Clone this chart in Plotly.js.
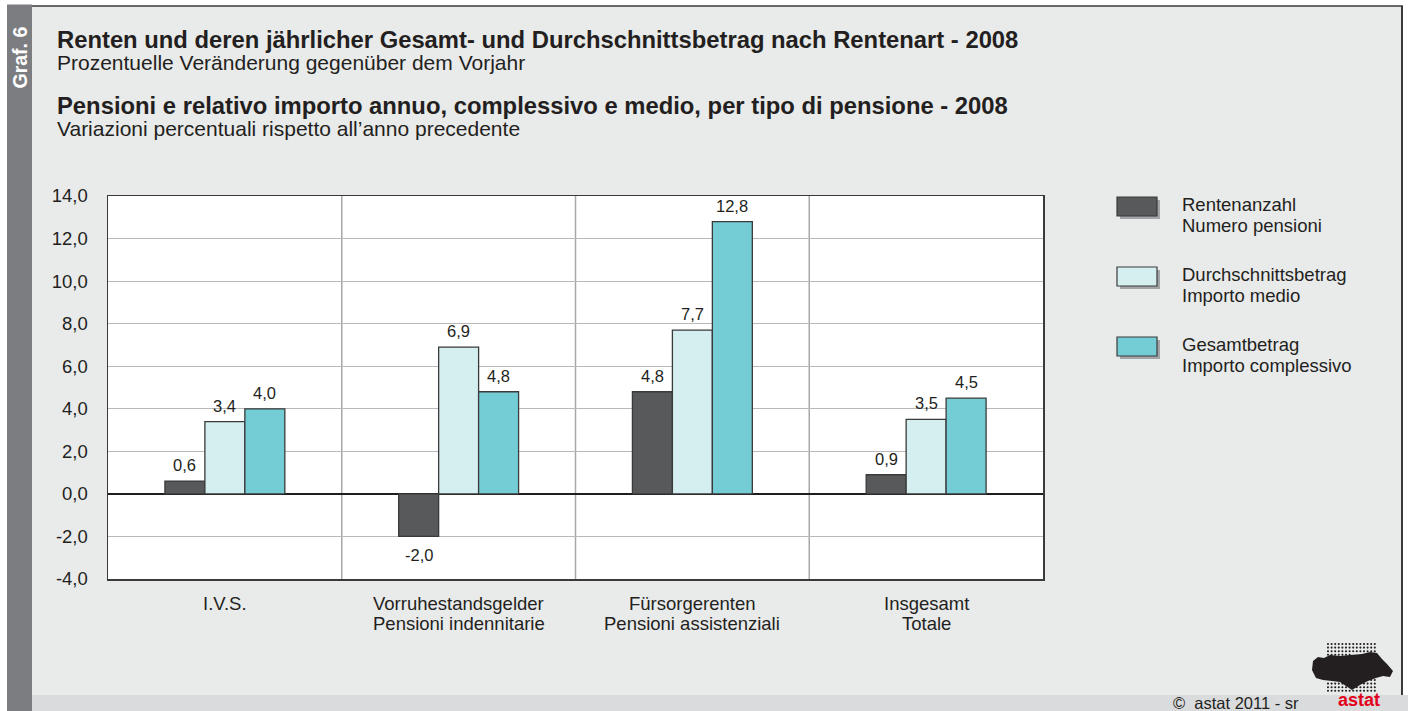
<!DOCTYPE html>
<html>
<head>
<meta charset="utf-8">
<script src="https://cdn.plot.ly/plotly-3.0.1.min.js"></script>
<style>
  html, body { margin: 0; padding: 0; background: #ffffff; }
  #chart { width: 1408px; height: 711px; }
</style>
</head>
<body>
<div id="chart"></div>
<script>
// ---- Data ----
const categories = ['I.V.S.', 'Vorruhestandsgelder', 'Fürsorgerenten', 'Insgesamt'];
const categoryLabelsLine1 = ['I.V.S.', 'Vorruhestandsgelder', 'Fürsorgerenten', 'Insgesamt'];
const categoryLabelsLine2 = ['', 'Pensioni indennitarie', 'Pensioni assistenziali', 'Totale'];
const seriesNamesDe = ['Rentenanzahl', 'Durchschnittsbetrag', 'Gesamtbetrag'];
const seriesNamesIt = ['Numero pensioni', 'Importo medio', 'Importo complessivo'];
const rentenanzahl = [0.6, -2.0, 4.8, 0.9];
const durchschnittsbetrag = [3.4, 6.9, 7.7, 3.5];
const gesamtbetrag = [4.0, 4.8, 12.8, 4.5];
const yTickValues = [-4, -2, 0, 2, 4, 6, 8, 10, 12, 14];

const titleDe = 'Renten und deren jährlicher Gesamt- und Durchschnittsbetrag nach Rentenart - 2008';
const subtitleDe = 'Prozentuelle Veränderung gegenüber dem Vorjahr';
const titleIt = 'Pensioni e relativo importo annuo, complessivo e medio, per tipo di pensione - 2008';
const subtitleIt = 'Variazioni percentuali rispetto all’anno precedente';
const grafLabel = 'Graf. 6';
const copyright = '©  astat 2011 - sr';
const logoText = 'astat';

// ---- Styles ----
const FONT = 'Liberation Sans, Arial, Helvetica, sans-serif';
const TXT = '#231f20';
const colors = ['#58595b', '#d5eef0', '#74cdd5'];
const seriesValues = [rentenanzahl, durchschnittsbetrag, gesamtbetrag];
const fmt = v => v.toFixed(1).replace('.', ',');

// layout geometry (pixels)
const W = 1408, H = 711;
const L = 108, R = 1043, T = 196, B = 579;
const BARGAP = 0.487;
const px = x => (x - L) / (R - L);
const py = y => (B - y) / (B - T);

const traces = seriesValues.map((vals, i) => ({
  type: 'bar',
  name: seriesNamesDe[i],
  x: categories,
  y: vals,
  marker: { color: colors[i], line: { color: '#3a3a3a', width: 1.3 } },
  showlegend: false,
  hoverinfo: 'skip'
}));

const shapes = [];
// background decorations
const rect = (x0, x1, y0, y1, fill, extra) => shapes.push(Object.assign({ type: 'rect', xref: 'paper', yref: 'paper', x0: px(x0), x1: px(x1), y0: py(y1), y1: py(y0), fillcolor: fill, line: { width: 0 }, layer: 'below' }, extra || {}));
rect(0, W, 0, 5.5, '#ffffff');
rect(1403, W, 0, 695, '#ffffff');
rect(0, 7, 0, H, '#ffffff');
rect(32, W, 695, H, '#dadbdc');
rect(7, 32, 4.5, H, '#7c7d80');
shapes.push({ type: 'line', xref: 'paper', yref: 'paper', x0: px(32), x1: px(1403), y0: py(6), y1: py(6), line: { color: '#3a3a3a', width: 1.5 }, layer: 'below' });
shapes.push({ type: 'line', xref: 'paper', yref: 'paper', x0: px(1402), x1: px(1402), y0: py(6), y1: py(695), line: { color: '#3a3a3a', width: 2 }, layer: 'below' });

// category separators
for (let i = 0; i < categories.length - 1; i++) {
  shapes.push({ type: 'line', xref: 'x', yref: 'paper', x0: i + 0.5, x1: i + 0.5, y0: 0, y1: 1, line: { color: '#a6a8ab', width: 1.5 }, layer: 'below' });
}

// custom legend swatches
const legendTops = [197, 267, 337];
legendTops.forEach((t, i) => {
  rect(1120, 1160, t + 3, t + 22, '#a3a5a8', { layer: 'above' });
  rect(1117, 1157, t, t + 19, colors[i], { layer: 'above', line: { color: '#3a3a3a', width: 1.2 } });
});

// logo (simplified dotted map)
const logoPoly = [[1313,661],[1318,657],[1324,658],[1330,655],[1340,656],[1350,655],[1362,654],[1370,652],[1377,653],[1382,659],[1387,664],[1393,671],[1390,677],[1383,676],[1376,678],[1368,681],[1360,685],[1352,690],[1346,686],[1340,682],[1332,681],[1323,680],[1316,678],[1312,670]];
const inPoly = (x, y) => {
  let inside = false;
  for (let i = 0, j = logoPoly.length - 1; i < logoPoly.length; j = i++) {
    const [xi, yi] = logoPoly[i], [xj, yj] = logoPoly[j];
    if (((yi > y) !== (yj > y)) && (x < (xj - xi) * (y - yi) / (yj - yi) + xi)) inside = !inside;
  }
  return inside;
};
for (let gx = 1328; gx <= 1378; gx += 3.6) {
  for (let gy = 644; gy <= 694; gy += 3.6) {
    if (inPoly(gx, gy)) continue;
    const r = 1.05;
    shapes.push({ type: 'circle', xref: 'paper', yref: 'paper', x0: px(gx - r), x1: px(gx + r), y0: py(gy + r), y1: py(gy - r), fillcolor: '#231f20', line: { width: 0 } });
  }
}
const logoPath = logoPoly.map((p, i) => (i ? 'L' : 'M') + px(p[0]).toFixed(5) + ',' + py(p[1]).toFixed(5)).join(' ') + ' Z';
shapes.push({ type: 'path', xref: 'paper', yref: 'paper', path: logoPath, fillcolor: '#231f20', line: { width: 0 } });

const annotations = [];
const addText = (text, x, y, size, opts = {}) => annotations.push(Object.assign({
  text: text, xref: 'paper', yref: 'paper', x: px(x), y: py(y),
  xanchor: 'left', yanchor: 'middle', showarrow: false, align: 'left',
  font: { family: FONT, size: size, color: TXT }
}, opts));

// title blocks: bold title + subtitle in one text, tight line spacing (base 17px -> 22px spacing)
const titleBlock = (t, s) => '<b><span style="font-size:23.8px">' + t + '</span></b><br><span style="font-size:21px">' + s + '</span>';
addText(titleBlock(titleDe, subtitleDe), 54.5, 24, 17, { yanchor: 'top' });
addText(titleBlock(titleIt, subtitleIt), 54.5, 90, 17, { yanchor: 'top' });
addText('<b>' + grafLabel + '</b>', 19.5, 58, 19.5, { xanchor: 'center', textangle: -90, font: { family: FONT, size: 19.5, color: '#ffffff' } });

// legend text (two lines, tight spacing)
seriesNamesDe.forEach((n, i) => {
  addText(n, 1180, legendTops[i] + 7, 18.5);
  addText(seriesNamesIt[i], 1180, legendTops[i] + 28, 18.5);
});

// category labels (two lines, tight spacing)
categories.forEach((c, i) => {
  [categoryLabelsLine1[i], categoryLabelsLine2[i]].forEach((t, k) => {
    if (!t) return;
    annotations.push({ text: t, xref: 'x', yref: 'paper', x: c, y: py(603.5 + k * 20), xanchor: 'center', yanchor: 'middle', showarrow: false, font: { family: FONT, size: 18.5, color: TXT } });
  });
});

// value labels
const nSeries = seriesValues.length;
const barPx = (R - L) / categories.length * (1 - BARGAP) / nSeries;
seriesValues.forEach((vals, s) => {
  vals.forEach((v, i) => {
    annotations.push({
      text: fmt(v), xref: 'x', yref: 'y', x: categories[i], y: v,
      xshift: (s - (nSeries - 1) / 2) * barPx,
      yanchor: v >= 0 ? 'bottom' : 'top', yshift: v >= 0 ? 5 : -8,
      xanchor: 'center', showarrow: false,
      font: { family: FONT, size: 16.5, color: TXT }
    });
  });
});

addText(copyright, 1301, 703, 16.5, { xanchor: 'right' });
addText('<b>' + logoText + '</b>', 1359, 711, 18, { xanchor: 'center', yanchor: 'bottom', borderpad: 0, font: { family: FONT, size: 18, color: '#e2001a' } });

const layout = {
  width: W, height: H,
  margin: { l: L, r: W - R, t: T, b: H - B, pad: 0 },
  paper_bgcolor: '#e9eaea',
  plot_bgcolor: '#ffffff',
  separators: ',.',
  barmode: 'group',
  bargap: BARGAP,
  bargroupgap: 0,
  showlegend: false,
  font: { family: FONT, size: 16, color: TXT },
  xaxis: {
    type: 'category',
    showticklabels: false,
    showgrid: false,
    showline: true, mirror: true, linecolor: '#3a3a3a', linewidth: 1.5,
    ticks: '',
    fixedrange: true
  },
  yaxis: {
    range: [-4, 14],
    tickvals: yTickValues,
    ticktext: yTickValues.map(fmt),
    showgrid: true, gridcolor: '#b7b9bb', gridwidth: 1,
    zeroline: true, zerolinecolor: '#1e1e1e', zerolinewidth: 2.2,
    showline: true, mirror: true, linecolor: '#3a3a3a', linewidth: 1.5,
    ticks: '', ticklabelstandoff: 15,
    tickfont: { family: FONT, size: 18.5, color: TXT },
    fixedrange: true
  },
  shapes: shapes,
  annotations: annotations
};

Plotly.newPlot('chart', traces, layout, { displayModeBar: false, staticPlot: true });
</script>
</body>
</html>
